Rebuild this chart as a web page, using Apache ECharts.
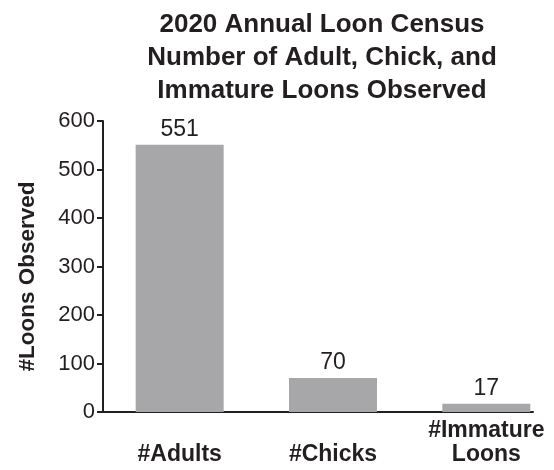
<!DOCTYPE html>
<html>
<head>
<meta charset="utf-8">
<script src="https://cdn.jsdelivr.net/npm/echarts@6/dist/echarts.min.js"></script>
<style>html,body{margin:0;padding:0;background:#fff}#c{width:554px;height:470px}</style>
</head>
<body>
<div id="c"></div>
<script>
const categories = ['#Adults', '#Chicks', '#Immature\nLoons'];
const values = [551, 70, 17];
const yTicks = [0, 100, 200, 300, 400, 500, 600];
const titleText = '2020 Annual Loon Census\nNumber of Adult, Chick, and\nImmature Loons Observed';
const yName = '#Loons Observed';

const ink = '#231f20';
const font = '"Liberation Sans", Arial, sans-serif';
const chart = echarts.init(document.getElementById('c'), null, {renderer: 'canvas'});
chart.setOption({
  animation: false,
  title: {
    text: titleText,
    left: 322, top: 8, padding: 0,
    textAlign: 'center',
    textStyle: {fontFamily: font, fontSize: 26, fontWeight: 'bold', color: ink, lineHeight: 33}
  },
  grid: [
    {left: 103, width: 460, top: 121, height: 291, outerBoundsMode: 'none', containLabel: false},
    {left: 103, right: 21, top: 121, height: 291, outerBoundsMode: 'none', containLabel: false}
  ],
  xAxis: [
    {
      type: 'category', gridIndex: 0, data: categories,
      axisLine: {show: false}, axisTick: {show: false},
      axisLabel: {fontFamily: font, fontSize: 23, fontWeight: 'bold', color: ink,
                  verticalAlign: 'bottom', margin: 55, lineHeight: 24, interval: 0}
    },
    {
      type: 'value', gridIndex: 1, min: 0, max: 1,
      axisLine: {show: true, onZero: false, lineStyle: {color: ink, width: 2}},
      axisTick: {show: false}, axisLabel: {show: false}, splitLine: {show: false}
    }
  ],
  yAxis: [
    {
      type: 'value', gridIndex: 0, min: yTicks[0], max: yTicks[yTicks.length - 1], interval: 100,
      name: yName, nameLocation: 'middle', nameGap: 64,
      nameTextStyle: {fontFamily: font, fontSize: 22.5, fontWeight: 'bold', color: ink, padding: [0, 20, 0, 0]},
      axisLine: {show: true, lineStyle: {color: ink, width: 2}},
      axisTick: {show: true, length: 6, lineStyle: {color: ink, width: 2}},
      axisLabel: {fontFamily: font, fontSize: 22, color: ink, margin: 8},
      splitLine: {show: false}
    },
    {type: 'value', gridIndex: 1, show: false, min: 0, max: 1}
  ],
  series: [{
    type: 'bar', xAxisIndex: 0, yAxisIndex: 0, data: values, barWidth: 88,
    itemStyle: {color: '#a7a7aa'},
    label: {show: true, position: 'top', distance: 4, fontFamily: font, fontSize: 23, color: ink}
  }]
});
</script>
</body>
</html>
